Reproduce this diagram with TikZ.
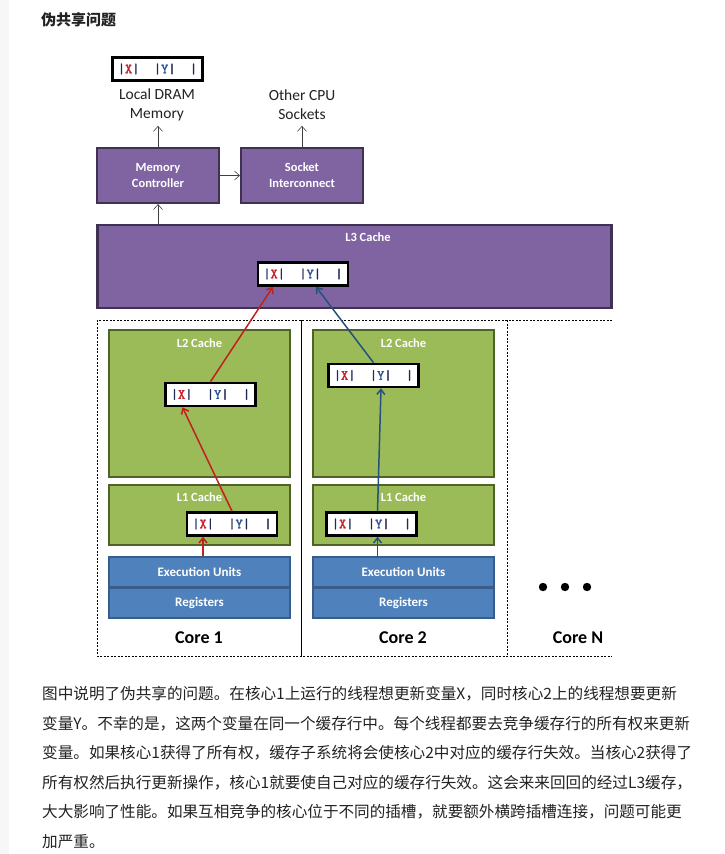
\documentclass[tikz,border=0pt]{standalone}
\usepackage{fontspec}
\usepackage{xcolor}
\usepackage{tikz}
\usetikzlibrary{arrows.meta,calc}
\setmainfont{Carlito}
\newfontfamily\cjk{Noto Sans CJK SC}
\newfontfamily\cachefont[FakeBold=2.2]{Latin Modern Mono}
\definecolor{purfill}{HTML}{8064A2}
\definecolor{purdraw}{HTML}{3F3151}
\definecolor{grnfill}{HTML}{9BBB59}
\definecolor{grndraw}{HTML}{4F6228}
\definecolor{blufill}{HTML}{4F81BD}
\definecolor{bludraw}{HTML}{385D8A}
\definecolor{xred}{HTML}{C4212B}
\definecolor{yblue}{HTML}{2F5597}
\definecolor{barcol}{HTML}{1F2A5A}
\definecolor{redline}{HTML}{C0201E}
\definecolor{blueline}{HTML}{24507F}
\definecolor{txtcol}{HTML}{222222}
\newcommand{\cacheline}{{\cachefont\textcolor{barcol}{|}\textcolor{xred}{X}\textcolor{barcol}{|}\ \ \textcolor{barcol}{|}\textcolor{yblue}{Y}\textcolor{barcol}{|}\ \ \textcolor{barcol}{|}}}

\begin{document}
\begin{tikzpicture}[x=1pt, y=-1pt,
  purplebox/.style={draw=purdraw, line width=2.2pt, fill=purfill, text=white, font=\bfseries\fontsize{12.5}{16}\selectfont, align=center},
  greenbox/.style={draw=grndraw, line width=2.2pt, fill=grnfill, minimum width=181, inner sep=0pt},
  bluebox/.style={draw=bludraw, line width=1.8pt, fill=blufill, minimum width=181, minimum height=30, text=white, font=\bfseries\fontsize{13}{15}\selectfont},
  boxlabel/.style={text=white, font=\bfseries\fontsize{12.5}{14}\selectfont, inner sep=0pt},
  linebox/.style={draw=black, line width=2.6pt, fill=white, minimum width=90, minimum height=23, inner sep=0pt, font=\fontsize{14}{14}\selectfont},
  corelabel/.style={text=black, font=\bfseries\fontsize{18}{20}\selectfont, inner sep=0pt},
  toparrow/.style={draw=black!75, line width=0.6pt, -{Straight Barb[length=5pt, width=9pt]}},
  redarrow/.style={draw=redline, line width=1.5pt, -{Straight Barb[length=5pt, width=8pt]}},
  bluearrow/.style={draw=blueline, line width=1.5pt, -{Straight Barb[length=5pt, width=8pt]}}]
  \useasboundingbox (0,0) rectangle (724,854);
  \fill[white] (0,0) rectangle (724,854);
  \fill[black!3] (0,0) rectangle (9,854);

  \node (title) [anchor=west, text=txtcol, font=\cjk\bfseries\fontsize{15}{18}\selectfont, inner sep=0pt] at (41,20) {伪共享问题};

  % memory and sockets
  \node (mem) [linebox] at (157.5,69) {\cacheline};
  \node (dram) [text=txtcol, align=center, font=\fontsize{15.5}{19}\selectfont] at (157,105) {Local DRAM\\Memory};
  \node (other) [text=txtcol, align=center, font=\fontsize{15.5}{19}\selectfont] at (302,105) {Other CPU\\Sockets};
  \node (mc) [purplebox, minimum width=122, minimum height=55] at (158,175.5) {Memory\\Controller};
  \node (si) [purplebox, minimum width=122, minimum height=55] at (302,175.5) {Socket\\Interconnect};
  \draw[toparrow] (mc) -- (si);
  \draw[toparrow] (mc.north) -- ++(0,-21);
  \draw[toparrow] (si.north) -- ++(0,-21);

  % shared L3
  \node (l3) [purplebox, minimum width=514, minimum height=83] at (354.5,266.5) {};
  \node (l3lbl) [boxlabel] at (368,237) {L3 Cache};
  \node (l3line) [linebox] at (303,274) {\cacheline};
  \draw[toparrow] (l3.north -| mc.south) -- (mc.south);

  % cores
  \draw[dash pattern=on 2pt off 1.5pt, line width=0.7pt] (612,320) -- (97,320) -- (97,656) -- (612,656);
  \draw[line width=0.7pt] (301,320) -- (301,656);
  \draw[dash pattern=on 2pt off 1.5pt, line width=0.7pt] (507,320) -- (507,656);

  \node (l2a) [greenbox, minimum height=147] at (199.5,403.5) {};
  \node (l2albl) [boxlabel] at (199.5,343) {L2 Cache};
  \node (l2aline) [linebox] at (210.5,394.5) {\cacheline};
  \node (l1a) [greenbox, minimum height=60] at (199.5,515) {};
  \node (l1albl) [boxlabel] at (199.5,497) {L1 Cache};
  \node (l1aline) [linebox] at (232,524) {\cacheline};
  \node (eua) [bluebox] at (199.5,572) {Execution Units};
  \node (rega) [bluebox] at (199.5,603) {Registers};
  \node (corea) [corelabel] at (199,638) {Core 1};

  \node (l2b) [greenbox, minimum height=147] at (403.5,403.5) {};
  \node (l2blbl) [boxlabel] at (403.5,343) {L2 Cache};
  \node (l2bline) [linebox] at (373.5,375.5) {\cacheline};
  \node (l1b) [greenbox, minimum height=60] at (403.5,515) {};
  \node (l1blbl) [boxlabel] at (403.5,497) {L1 Cache};
  \node (l1bline) [linebox] at (371.5,524) {\cacheline};
  \node (eub) [bluebox] at (403.5,572) {Execution Units};
  \node (regb) [bluebox] at (403.5,603) {Registers};
  \node (coreb) [corelabel] at (403,638) {Core 2};

  \foreach \i/\x in {1/543, 2/565, 3/587}
    \fill (\x,587) circle (4.2pt);
  \node (coren) [corelabel] at (578,638) {Core N};

  % write paths of X (core 1) and Y (core 2)
  \draw[redarrow] ($(eua.north)+(3.5,0)$) -- ($(l1aline.south)+(-29,0)$);
  \draw[redarrow] (l1aline.north) -- ($(l2aline.south)+(-28,0)$);
  \draw[redarrow] (l2aline.north) -- ($(l3line.south)+(-30,0)$);
  \draw[bluearrow] ($(eub.north)+(-26,0)$) -- ($(l1bline.south)+(6,0)$);
  \draw[bluearrow] ($(l1bline.north)+(6,0)$) -- ($(l2bline.south)+(7.5,0)$);
  \draw[bluearrow] (l2bline.north) -- ($(l3line.south)+(13,0)$);

  \node (para) [anchor=north west, align=left, text=txtcol, inner sep=0pt, font=\cjk\fontsize{15.6}{29.6}\selectfont] at (42,686) {图中说明了伪共享的问题。在核心1上运行的线程想更新变量X，同时核心2上的线程想要更新\\变量Y。不幸的是，这两个变量在同一个缓存行中。每个线程都要去竞争缓存行的所有权来更新\\变量。如果核心1获得了所有权，缓存子系统将会使核心2中对应的缓存行失效。当核心2获得了\\所有权然后执行更新操作，核心1就要使自己对应的缓存行失效。这会来来回回的经过L3缓存，\\大大影响了性能。如果互相竞争的核心位于不同的插槽，就要额外横跨插槽连接，问题可能更\\加严重。};
\end{tikzpicture}
\end{document}
